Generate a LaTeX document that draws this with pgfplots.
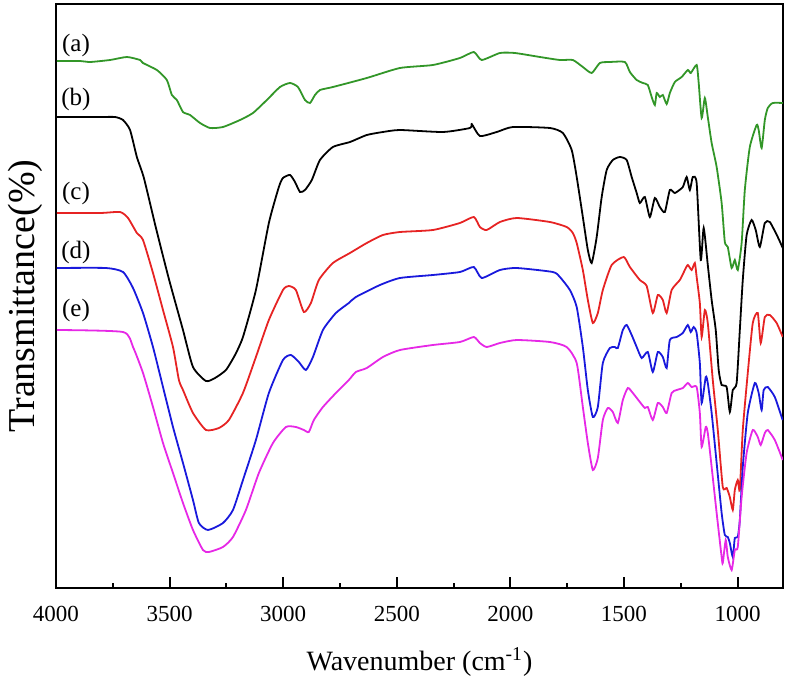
\documentclass[border=0pt]{standalone}
\usepackage{pgfplots}
\pgfplotsset{compat=1.18}
\usepackage{fontspec}
\setmainfont{Liberation Serif}
\definecolor{cA}{RGB}{50,150,40}
\definecolor{cC}{RGB}{230,35,35}
\definecolor{cD}{RGB}{25,25,220}
\definecolor{cE}{RGB}{230,40,230}
\begin{document}
\begin{tikzpicture}
\begin{axis}[name=ax, at={(0,0)}, anchor=south west,
  scale only axis, width=363.5bp, height=292bp,
  x dir=reverse, xmin=800, xmax=4000,
  y dir=reverse, ymin=4, ymax=588,
  xtick={1000,1500,...,4000}, minor x tick num=1, xtick pos=bottom,
  ytick=\empty,
  tick align=inside, major tick length=5.5bp, minor tick length=2.5bp,
  axis line style={line width=1bp},
  every tick/.style={line width=1bp, black},
  /pgf/number format/assume math mode=true,
  /pgf/number format/set thousands separator={},
  xticklabel style={font=\fontsize{11.5bp}{13bp}\selectfont, yshift=-5.5bp},
  xlabel={Wavenumber (cm\textsuperscript{-1})},
  xlabel style={font=\fontsize{14bp}{16bp}\selectfont, at={(axis description cs:0.5,0)}, anchor=center, yshift=-37bp},
  ylabel={Transmittance(\%)},
  ylabel style={font=\fontsize{19bp}{21bp}\selectfont, at={(axis description cs:-0.0426,0.5)}, anchor=center},
  every axis plot/.append style={line width=0.9bp, mark=none, smooth, tension=0.35},
  clip=true,
]
% (a)
\addplot[color=cA] coordinates {
(3996,61) (3894,61) (3850,62) (3762,60) (3688,57) (3630,60) (3617,63) (3556,70)
(3512,80) (3490,95) (3468,100) (3441,112) (3410,115) (3366,123) (3322,128) (3265,127)
(3190,120) (3133,113) (3072,100) (3014,87) (2970,83) (2935,87) (2904,100) (2882,103)
(2860,95) (2838,90) (2781,87) (2632,78) (2486,68) (2341,65) (2222,58) (2161,52)
(2126,60) (2046,53) (1980,53) (1870,57) (1782,60) (1725,60) (1681,67) (1642,73)
(1606,63) (1562,62) (1496,62) (1474,72) (1444,80) (1417,83) (1395,85) (1378,97)
(1364,105) (1356,93) (1342,97) (1329,95) (1312,104) (1298,93) (1276,82) (1246,77)
(1219,70) (1206,73) (1180,65) (1171,83) (1158,118) (1144,98) (1131,117) (1114,143)
(1092,167) (1070,203) (1056,242) (1043,247) (1026,268) (1012,260) (999,270) (982,243)
(968,190) (946,147) (916,125) (907,130) (894,148) (880,120) (867,108) (845,103) (801,103)
};
% (b)
\addplot[color=black] coordinates {
(3996,117) (3806,117) (3740,117) (3705,120) (3674,130) (3644,157) (3613,178) (3560,228)
(3503,279) (3441,330) (3397,367) (3340,381) (3300,378) (3252,370) (3212,355) (3177,337)
(3120,290) (3063,223) (3019,187) (3001,178) (2970,175) (2948,182) (2926,192) (2904,190)
(2874,180) (2838,160) (2781,147) (2706,142) (2632,135) (2561,132) (2486,130) (2297,132)
(2178,128) (2170,124) (2134,136) (2060,132) (1989,127) (1826,128) (1769,133) (1730,150)
(1708,177) (1681,217) (1659,250) (1642,263) (1620,237) (1598,197) (1576,170) (1549,160)
(1518,157) (1488,160) (1466,177) (1444,193) (1430,203) (1408,197) (1386,217) (1364,198)
(1342,207) (1320,212) (1298,190) (1276,193) (1241,187) (1224,177) (1210,190) (1197,177)
(1180,183) (1162,260) (1149,228) (1131,265) (1114,300) (1096,330) (1083,370) (1070,385)
(1048,387) (1034,412) (1021,390) (1004,383) (990,330) (977,280) (960,235) (938,220)
(920,230) (902,247) (880,223) (858,222) (823,237) (801,248)
};
% (c)
\addplot[color=cC] coordinates {
(3996,213) (3806,213) (3718,212) (3683,218) (3644,233) (3617,240) (3573,273) (3529,310)
(3485,347) (3459,380) (3441,390) (3397,413) (3340,430) (3283,428) (3239,420) (3177,393)
(3120,357) (3063,320) (3001,290) (2975,286) (2944,290) (2909,312) (2878,303) (2843,280)
(2781,263) (2706,253) (2632,243) (2561,235) (2486,232) (2341,230) (2222,223) (2161,217)
(2134,227) (2104,230) (2046,222) (1972,218) (1826,222) (1752,227) (1725,233) (1708,243)
(1681,270) (1659,300) (1637,323) (1615,313) (1593,290) (1554,265) (1501,257) (1474,267)
(1430,280) (1400,286) (1373,313) (1351,295) (1329,300) (1312,313) (1290,290) (1254,280)
(1232,270) (1219,265) (1202,270) (1188,263) (1180,277) (1166,303) (1158,337) (1144,310)
(1131,323) (1109,380) (1087,430) (1065,487) (1048,488) (1034,497) (1021,510) (1012,490)
(999,480) (990,490) (977,430) (955,373) (933,323) (911,313) (898,343) (880,317)
(858,315) (828,323) (801,337)
};
% (d)
\addplot[color=cD] coordinates {
(3996,268) (3780,268) (3705,272) (3661,288) (3617,313) (3573,347) (3529,387) (3485,427)
(3441,463) (3397,500) (3371,523) (3331,530) (3265,523) (3221,510) (3177,480) (3120,440)
(3063,393) (3001,360) (2966,355) (2931,362) (2900,370) (2869,357) (2825,330) (2768,313)
(2711,303) (2680,297) (2574,285) (2486,278) (2341,275) (2222,272) (2161,267) (2126,278)
(2046,270) (1972,268) (1813,272) (1782,277) (1738,290) (1708,307) (1681,347) (1659,390)
(1637,417) (1615,407) (1593,363) (1562,348) (1540,347) (1527,348) (1505,330) (1488,325)
(1466,335) (1444,347) (1422,358) (1395,352) (1373,372) (1351,352) (1329,357) (1312,368)
(1298,340) (1268,337) (1241,333) (1219,325) (1206,332) (1193,327) (1180,333) (1166,363)
(1158,403) (1140,377) (1131,383) (1114,413) (1092,463) (1070,513) (1056,535) (1043,537)
(1034,543) (1021,557) (1012,538) (999,537) (990,520) (977,467) (955,413) (924,383)
(907,393) (894,410) (885,390) (867,387) (836,397) (806,417) (801,420)
};
% (e)
\addplot[color=cE] coordinates {
(3996,330) (3705,332) (3661,347) (3617,373) (3573,407) (3529,443) (3485,473) (3441,503)
(3397,530) (3353,550) (3327,552) (3265,547) (3221,537) (3164,510) (3107,473) (3045,443)
(2988,427) (2944,427) (2909,430) (2887,432) (2865,420) (2825,407) (2768,393) (2711,380)
(2680,372) (2632,368) (2561,357) (2486,350) (2341,345) (2222,342) (2161,337) (2134,343)
(2104,347) (2046,343) (1972,340) (1826,342) (1752,347) (1708,363) (1681,407) (1659,443)
(1637,470) (1615,458) (1593,420) (1571,408) (1549,412) (1527,423) (1505,400) (1483,388)
(1461,393) (1430,402) (1408,408) (1395,407) (1373,420) (1351,403) (1329,407) (1312,413)
(1290,393) (1268,390) (1241,388) (1219,383) (1202,387) (1180,387) (1166,413) (1158,447)
(1140,427) (1131,433) (1114,467) (1092,513) (1070,557) (1065,563) (1052,540) (1043,557)
(1026,570) (1012,550) (999,547) (982,497) (960,453) (933,430) (911,437) (898,445)
(880,433) (867,430) (836,440) (801,460)
};
\node[font=\fontsize{12.5bp}{14bp}\selectfont] at (axis cs:3912,45) {(a)};
\node[font=\fontsize{12.5bp}{14bp}\selectfont] at (axis cs:3912,99) {(b)};
\node[font=\fontsize{12.5bp}{14bp}\selectfont] at (axis cs:3912,193) {(c)};
\node[font=\fontsize{12.5bp}{14bp}\selectfont] at (axis cs:3912,252) {(d)};
\node[font=\fontsize{12.5bp}{14bp}\selectfont] at (axis cs:3912,310) {(e)};
\end{axis}
\pgfresetboundingbox
\path[use as bounding box] (-28bp,-50bp) rectangle (367.5bp,294bp);
\end{tikzpicture}
\end{document}
